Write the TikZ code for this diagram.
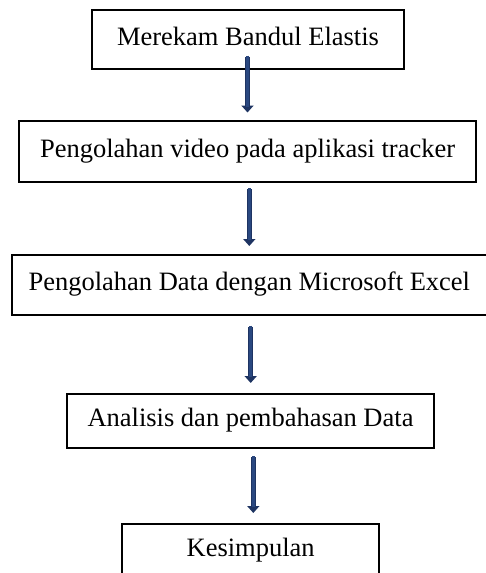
\documentclass[tikz,border=0pt]{standalone}
\usepackage{fontspec}
\setmainfont{Liberation Serif}
\usetikzlibrary{arrows.meta}
\definecolor{flowblue}{RGB}{42,72,128}
\definecolor{flowedge}{RGB}{30,52,98}
\tikzset{
  stepbox/.style={draw=black, line width=2pt, inner sep=0pt,
    text height=19pt, text depth=7.5pt,
    font=\fontsize{26.5pt}{30pt}\selectfont},
  flow/.style={draw=flowedge, line width=5pt,
    -{Triangle[width=12pt,length=7pt,fill=flowedge]}},
  flowcore/.style={draw=flowblue, line width=3pt, shorten >=6pt}
}
\begin{document}
\begin{tikzpicture}[x=1pt,y=-1pt]
  \useasboundingbox (0,0) rectangle (486,573);
  \clip (0,0) rectangle (486,573);
  \fill[white] (0,0) rectangle (486,573);

  % process boxes
  \node[stepbox, minimum width=312.6pt, minimum height=59pt] (b1) at (248,39.5) {Merekam Bandul Elastis};
  \node[stepbox, minimum width=456.7pt, minimum height=60.7pt] (b2) at (247.6,151.3) {Pengolahan video pada aplikasi tracker};
  \node[stepbox, minimum width=475.3pt, minimum height=60pt] (b3) at (249.3,285) {Pengolahan Data dengan Microsoft Excel};
  \node[stepbox, minimum width=367.6pt, minimum height=54.3pt] (b4) at (250.5,421.2) {Analisis dan pembahasan Data};
  \node[stepbox, minimum width=256.7pt, minimum height=54pt] (b5) at (250.7,551) {Kesimpulan};

  % arrow end points
  \coordinate (a1s) at (247.5,56.7);  \coordinate (a1e) at (247.5,112.5);
  \coordinate (a2s) at (249.3,189);   \coordinate (a2e) at (249.3,246);
  \coordinate (a3s) at (250.7,326.7); \coordinate (a3e) at (250.7,383);
  \coordinate (a4s) at (253.3,457);   \coordinate (a4e) at (253.3,513);

  \foreach \s/\e in {a1s/a1e, a2s/a2e, a3s/a3e, a4s/a4e}{
    \draw[flow] (\s) -- (\e);
    \draw[flowcore] ([yshift=1pt]\s) -- (\e);
  }
\end{tikzpicture}
\end{document}
